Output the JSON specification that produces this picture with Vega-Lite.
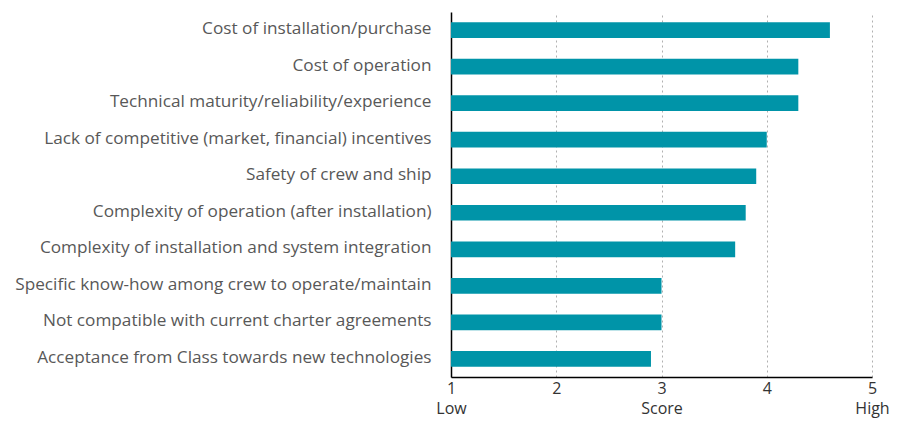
{
  "$schema": "https://vega.github.io/schema/vega-lite/v6.json",
  "autosize": {"type": "none"},
  "width": 421,
  "height": 365,
  "padding": {"left": 451, "top": 12, "right": 27, "bottom": 44},
  "background": "white",
  "data": {"values": [
    {"barrier": "Cost of installation/purchase", "score": 4.6},
    {"barrier": "Cost of operation", "score": 4.3},
    {"barrier": "Technical maturity/reliability/experience", "score": 4.3},
    {"barrier": "Lack of competitive (market, financial) incentives", "score": 4.0},
    {"barrier": "Safety of crew and ship", "score": 3.9},
    {"barrier": "Complexity of operation (after installation)", "score": 3.8},
    {"barrier": "Complexity of installation and system integration", "score": 3.7},
    {"barrier": "Specific know-how among crew to operate/maintain", "score": 3.0},
    {"barrier": "Not compatible with current charter agreements", "score": 3.0},
    {"barrier": "Acceptance from Class towards new technologies", "score": 2.9}
  ]},
  "config": {
    "view": {"stroke": null},
    "font": "Open Sans"
  },
  "mark": {"type": "bar", "color": "#0094a8"},
  "encoding": {
    "y": {
      "field": "barrier", "type": "nominal", "sort": null,
      "scale": {"paddingInner": 0.57, "paddingOuter": 0.28},
      "axis": {
        "title": null, "ticks": false, "labelPadding": 20,
        "labelFontSize": 17.2, "labelColor": "#585858", "labelFont": "Open Sans",
        "labelOffset": -1,
        "domainColor": "#000000", "domainWidth": 1.5, "labelLimit": 500
      }
    },
    "x": {
      "field": "score", "type": "quantitative",
      "scale": {"domain": [1, 5], "nice": false, "zero": false},
      "axis": {
        "title": null, "values": [1, 2, 3, 4, 5], "ticks": false,
        "labelFontSize": 16, "labelColor": "#333333", "labelPadding": 3,
        "labelLineHeight": 20, "labelFont": "Open Sans",
        "labelExpr": "datum.value == 1 ? ['1', 'Low'] : datum.value == 3 ? ['3', 'Score'] : datum.value == 5 ? ['5', 'High'] : datum.label",
        "domainColor": "#000000", "domainWidth": 1.5,
        "grid": true, "gridColor": "#b0b0b0", "gridDash": [2, 3], "gridWidth": 1,
        "labelFlush": false, "labelOverlap": false
      }
    },
    "x2": {"datum": 1}
  }
}
